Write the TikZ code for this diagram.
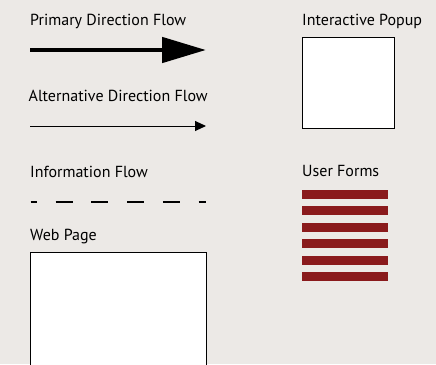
\documentclass[tikz,border=0pt]{standalone}
\usepackage{fontspec}
\setmainfont{PT Sans}
\usetikzlibrary{arrows.meta}
\definecolor{paper}{HTML}{ECE9E6}
\definecolor{formred}{HTML}{8A1A1C}
\begin{document}
\begin{tikzpicture}[x=1pt, y=-1pt,
    caption/.style = {anchor=base west, inner sep=0pt, font=\fontsize{16}{18}\selectfont},
    frame/.style = {draw, fill=white, line width=1.2pt, anchor=north west, inner sep=0pt}]
  \clip (0,0) rectangle (436,364);
  \fill[paper] (0,0) rectangle (436,364);
  % left column
  \node[caption] (primary) at (30,25.5) {Primary Direction Flow};
  \coordinate (p1) at (30,50);
  \coordinate (p2) at (206,50);
  \draw[line width=4.8pt, -{Triangle[length=44pt,width=25pt]}] (p1) -- (p2);
  \node[caption] (alt) at (28.5,101) {Alternative Direction Flow};
  \coordinate (a1) at (30,126);
  \coordinate (a2) at (206,126);
  \draw[line width=1pt, -{Triangle[length=11pt,width=10pt]}] (a1) -- (a2);
  \node[caption] (info) at (30,177) {Information Flow};
  \coordinate (i1) at (30.7,202);
  \coordinate (i2) at (206,202);
  \draw[line width=1.3pt, dash pattern=on 17pt off 18.8pt, dash phase=11pt] (i1) -- (i2);
  \node[caption] (web) at (30,240.5) {Web Page};
  \node[frame, minimum width=176pt, minimum height=130pt] (page) at (30,252) {};
  % right column
  \node[caption] (popuplabel) at (302,25) {Interactive Popup};
  \node[frame, minimum width=92pt, minimum height=91pt] (popup) at (302,37) {};
  \node[caption] (forms) at (302,176.5) {User Forms};
  \foreach \i in {0,...,5}
    \fill[formred] (302,190+16.45*\i) rectangle (388,198.7+16.45*\i);
\end{tikzpicture}
\end{document}
